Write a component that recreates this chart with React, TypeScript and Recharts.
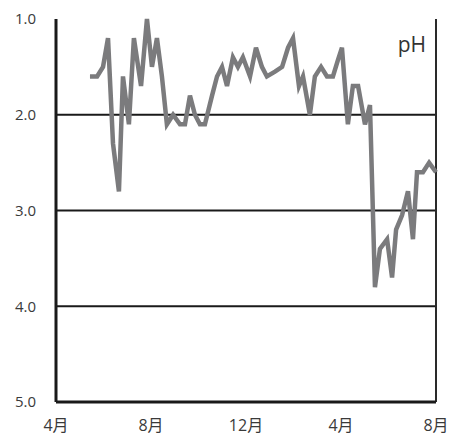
import { CartesianGrid, Line, LineChart, ReferenceLine, XAxis, YAxis } from "recharts";

// months since the first April (0 = 4月, 16 = 8月 of the next year)
const months = [
  1.43, 1.73, 1.98, 2.19, 2.4, 2.65, 2.82, 3.07, 3.28, 3.58, 3.83, 4.04, 4.25, 4.46, 4.67,
  4.93, 5.22, 5.43, 5.64, 5.85, 6.06, 6.27, 6.57, 6.78, 6.99, 7.2, 7.45, 7.66, 7.87, 8.17,
  8.42, 8.67, 8.88, 9.22, 9.52, 9.77, 9.98, 10.23, 10.4, 10.69, 10.9, 11.16, 11.41, 11.66,
  11.87, 12.04, 12.29, 12.5, 12.72, 13.01, 13.22, 13.43, 13.64, 13.94, 14.15, 14.32, 14.57,
  14.82, 15.03, 15.2, 15.45, 15.71, 16.0,
];
const phValues = [
  1.6, 1.6, 1.5, 1.2, 2.3, 2.8, 1.6, 2.1, 1.2, 1.7, 1.0, 1.5, 1.2, 1.6, 2.1,
  2.0, 2.1, 2.1, 1.8, 2.0, 2.1, 2.1, 1.8, 1.6, 1.5, 1.7, 1.4, 1.5, 1.4, 1.6,
  1.3, 1.5, 1.6, 1.55, 1.5, 1.3, 1.2, 1.7, 1.6, 2.0, 1.6, 1.5, 1.6, 1.6,
  1.43, 1.3, 2.1, 1.7, 1.7, 2.1, 1.9, 3.8, 3.4, 3.3, 3.7, 3.2, 3.05,
  2.8, 3.3, 2.6, 2.6, 2.5, 2.6,
];
const monthTicks = [0, 4, 8, 12, 16];
const monthLabels = ["4月", "8月", "12月", "4月", "8月"];
const phTicks = [1, 2, 3, 4, 5];
const gridValues = [2, 3, 4];

const data = months.map((m, i) => ({ m, ph: phValues[i] }));

const font = "'Open Sans', 'Noto Sans CJK JP', sans-serif";
const yTickStyle = { fill: "#3a3a3a", fontSize: 15, fontFamily: font };
const xTickStyle = { fill: "#3a3a3a", fontSize: 16, fontFamily: font };

export default function App() {
  return (
    <div style={{ position: "absolute", left: 0, top: 0, width: 449, height: 437, background: "#fff" }}>
      <LineChart width={449} height={437} data={data} margin={{ top: 19, right: 13, bottom: 0, left: 0 }}>
        <CartesianGrid horizontal vertical={false} horizontalValues={gridValues} stroke="#1a1a1a" strokeWidth={2} />
        <XAxis
          xAxisId="top"
          orientation="top"
          dataKey="m"
          type="number"
          domain={[0, 16]}
          ticks={monthTicks}
          mirror
          height={0}
          tick={() => <g />}
          tickSize={5}
          tickLine={{ stroke: "#c4c4c4", strokeWidth: 2 }}
          axisLine={{ stroke: "#2a2a2a", strokeWidth: 1.5 }}
        />
        <XAxis
          dataKey="m"
          type="number"
          domain={[0, 16]}
          ticks={monthTicks}
          tickFormatter={(v: number) => monthLabels[monthTicks.indexOf(v)]}
          height={35}
          tickSize={0}
          tickMargin={18}
          tick={xTickStyle}
          axisLine={{ stroke: "#1a1a1a", strokeWidth: 3 }}
          interval={0}
        />
        <YAxis
          type="number"
          domain={[1, 5]}
          reversed
          ticks={phTicks}
          tickFormatter={(v: number) => v.toFixed(1)}
          width={56}
          tickSize={0}
          tickMargin={20}
          tick={yTickStyle}
          axisLine={{ stroke: "#1a1a1a", strokeWidth: 3 }}
          interval={0}
        />
        <ReferenceLine x={16} stroke="#2a2a2a" strokeWidth={2} />
        <Line
          dataKey="ph"
          stroke="#7b7b7d"
          strokeWidth={4.5}
          dot={false}
          type="linear"
          isAnimationActive={false}
        />
        <text x={426} y={52} textAnchor="end" fontSize={21} fill="#333" fontFamily={font}>
          pH
        </text>
      </LineChart>
    </div>
  );
}
